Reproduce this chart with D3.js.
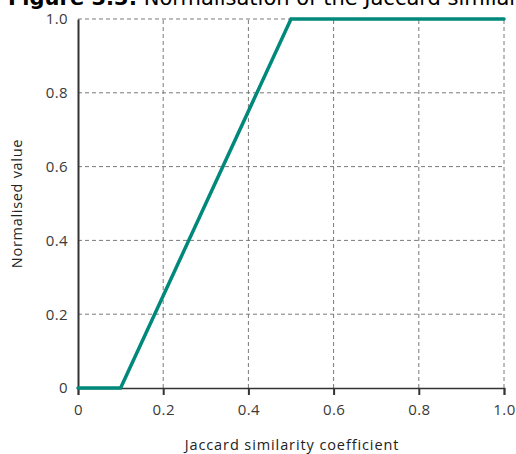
<!DOCTYPE html>
<html><head><meta charset="utf-8">
<script src="https://cdn.jsdelivr.net/npm/d3@7"></script>
<style>body{margin:0;background:#fff}svg{display:block}</style>
</head><body>
<svg id="c" width="516" height="454"></svg>
<script>
const xValues = [0, 0.1, 0.5, 1.0];
const yValues = [0, 0, 1, 1];
const xTicks = [0, 0.2, 0.4, 0.6, 0.8, 1.0];
const yTicks = [0, 0.2, 0.4, 0.6, 0.8, 1.0];
const tickLabels = ["0", "0.2", "0.4", "0.6", "0.8", "1.0"];

const FONT = "'Open Sans', sans-serif";
const TFONT = "'DejaVu Sans', Verdana, sans-serif";
const svg = d3.select("#c");
const m = {l: 78, r: 12, t: 19, b: 66};
const W = 516, H = 454;
const x = d3.scaleLinear().domain([0, 1]).range([m.l, W - m.r]);
const y = d3.scaleLinear().domain([0, 1]).range([H - m.b, m.t]);

// grid
const g = svg.append("g");
g.selectAll(".vx").data(xTicks.slice(1)).enter().append("line")
  .attr("x1", d => x(d)).attr("x2", d => x(d)).attr("y1", y(0)).attr("y2", y(1))
  .attr("stroke", "#7a7a7a").attr("stroke-width", 1).attr("stroke-dasharray", "4,3");
g.selectAll(".hy").data(yTicks.slice(1)).enter().append("line")
  .attr("y1", d => y(d)).attr("y2", d => y(d)).attr("x1", x(0)).attr("x2", x(1))
  .attr("stroke", "#7a7a7a").attr("stroke-width", 1).attr("stroke-dasharray", "4,3");

// x axis
const xa = svg.append("g").attr("transform", `translate(0,${y(0)})`)
  .call(d3.axisBottom(x).tickValues(xTicks).tickFormat((d, i) => tickLabels[i]).tickSize(7).tickPadding(9));
xa.select(".domain").attr("stroke", "#333").attr("stroke-width", 1.5);
xa.selectAll(".tick line").attr("stroke", "#333").attr("stroke-width", 2);
xa.selectAll("text").attr("font-family", FONT).attr("font-size", 15).attr("letter-spacing", 0.4).attr("fill", "#3a3a3a");

// y axis
const ya = svg.append("g").attr("transform", `translate(${x(0)},0)`)
  .call(d3.axisLeft(y).tickValues(yTicks).tickFormat((d, i) => tickLabels[i]).tickSize(0).tickPadding(10));
ya.select(".domain").attr("stroke", "#333").attr("stroke-width", 2);
ya.selectAll("text").attr("font-family", FONT).attr("font-size", 15).attr("letter-spacing", 0.4).attr("fill", "#3a3a3a");

// line
const pts = xValues.map((v, i) => [v, yValues[i]]);
svg.append("path").datum(pts)
  .attr("fill", "none").attr("stroke", "#00897b").attr("stroke-width", 3.5)
  .attr("stroke-linejoin", "miter").attr("stroke-linecap", "round")
  .attr("d", d3.line().x(d => x(d[0])).y(d => y(d[1])));

// labels
svg.append("text").attr("x", 292).attr("y", 450).attr("text-anchor", "middle")
  .attr("font-family", FONT).attr("font-size", 14.5).attr("letter-spacing", 0.9).attr("fill", "#222")
  .text("Jaccard similarity coefficient");
svg.append("text").attr("transform", `translate(22,${(y(0) + y(1)) / 2}) rotate(-90)`).attr("text-anchor", "middle")
  .attr("font-family", FONT).attr("font-size", 14.5).attr("letter-spacing", 0.7).attr("fill", "#222")
  .text("Normalised value");

// title (clipped at top)
const t = svg.append("text").attr("x", 8).attr("y", 5)
  .attr("font-family", TFONT).attr("font-size", 21).attr("fill", "#000");
t.append("tspan").attr("font-weight", "bold").text("Figure 3.3:");
t.append("tspan").text(" Normalisation of the Jaccard similarity coefficient");
</script>
</body></html>
